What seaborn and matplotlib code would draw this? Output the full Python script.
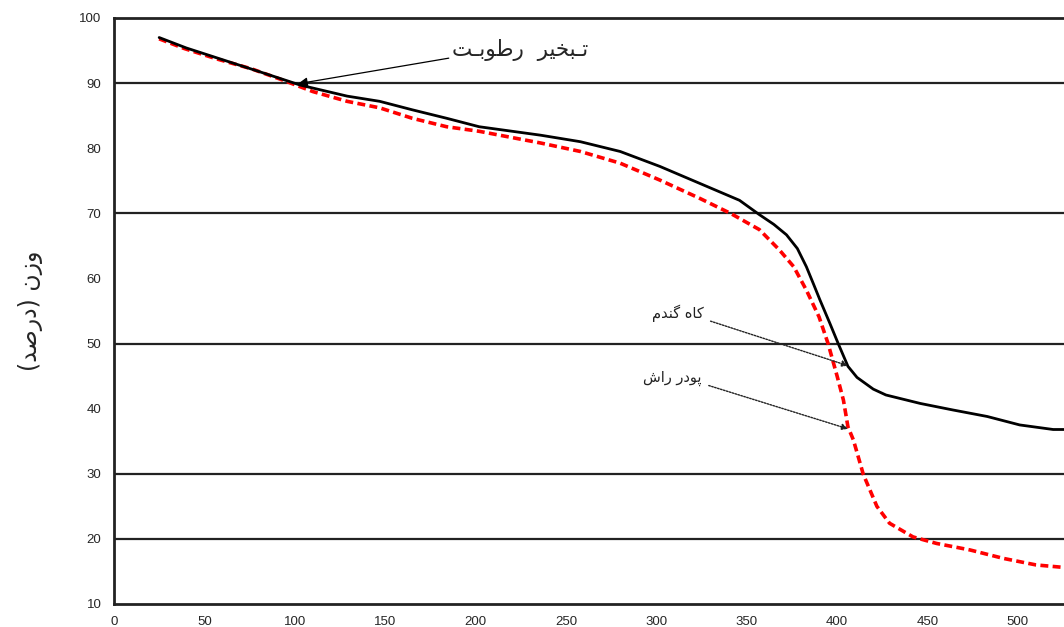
import matplotlib
matplotlib.use("Agg")
import matplotlib.pyplot as plt
import seaborn as sns
import pandas as pd

# ---- data ----
temp_straw = [25, 40, 60, 80, 103, 129, 147, 165, 184, 202, 236, 258, 280, 302, 324,
              346, 357, 365, 372, 378, 383, 387, 390.5, 396, 400.6, 406, 411, 420, 427,
              446, 464, 483, 501, 519.5, 526]
weight_straw = [97.0, 95.4, 93.6, 91.8, 89.7, 88.0, 87.2, 85.9, 84.6, 83.3, 82.0, 81.0,
                79.5, 77.2, 74.6, 72.0, 69.8, 68.3, 66.7, 64.6, 61.8, 59.1, 56.7, 53.1,
                50.0, 46.5, 44.8, 43.0, 42.1, 40.8, 39.8, 38.8, 37.5, 36.8, 36.8]

temp_beech = [25, 39, 57, 76, 94, 110, 129, 147, 165, 184, 202, 236, 258, 280, 302, 324,
              341, 357, 368, 376, 383, 390, 395, 400, 403.5, 406, 409, 414.5, 422, 429,
              442, 455, 473.5, 492, 510, 526]
weight_beech = [96.8, 95.3, 93.7, 92.2, 90.4, 88.7, 87.2, 86.2, 84.6, 83.3, 82.6, 80.8,
                79.5, 77.7, 75.1, 72.3, 70.0, 67.5, 64.4, 61.8, 58.2, 54.1, 50.0, 45.0,
                41.3, 37.2, 35.2, 29.9, 25.0, 22.4, 20.3, 19.3, 18.3, 17.0, 16.0, 15.6]

x_ticks = [0, 50, 100, 150, 200, 250, 300, 350, 400, 450, 500]
y_ticks = [10, 20, 30, 40, 50, 60, 70, 80, 90, 100]
grid_levels = [20, 30, 50, 70, 90]

# Persian texts in visual (presentation-form) order
label_y = "(\uFEAA\uFEBB\uFEAD\uFEA9) \uFEE5\uFEAF\uFEED"            # وزن (درصد)
label_moist = ("\uFE96\u0640\uFE91\uFEEE\uFEC3\uFEAD  "
               "\uFEAE\uFEF4\uFEA8\uFE92\u0640\uFE97")                 # تبخیر رطوبت
label_straw = "\uFEE1\uFEAA\uFEE8\uFB94 \uFEE9\uFE8E\uFB90"          # کاه گندم
label_beech = "\uFEB5\uFE8D\uFEAD \uFEAD\uFEA9\uFEEE\uFB58"          # پودر راش

sns.set_style("white")
plt.rcParams['font.family'] = ['Liberation Sans', 'DejaVu Sans']

fig = plt.figure(figsize=(10.64, 6.27), dpi=100)
ax = fig.add_axes([0.1071, 0.0367, 0.8929, 0.9346])

for lvl in grid_levels:
    ax.axhline(lvl, color='#222222', lw=1.6, zorder=1)

df_s = pd.DataFrame({"T": temp_straw, "W": weight_straw})
df_b = pd.DataFrame({"T": temp_beech, "W": weight_beech})
sns.lineplot(data=df_s, x="T", y="W", ax=ax, color='black', lw=2.0, zorder=3, sort=False)
sns.lineplot(data=df_b, x="T", y="W", ax=ax, color='#ff0000', lw=2.6, zorder=2,
             sort=False, linestyle=(0, (2.2, 1.2)))

ax.set_xlim(0, 525.5)
ax.set_ylim(10, 100)
ax.set_xticks(x_ticks)
ax.set_yticks(y_ticks)
ax.tick_params(axis='both', direction='out', length=5, width=1.5, color='#222222',
               labelsize=9.5, pad=4)
ax.set_xlabel("")
ax.set_ylabel(label_y, fontsize=17, family=['DejaVu Sans'], labelpad=26)

for side in ['left', 'bottom', 'top']:
    ax.spines[side].set_visible(True)
    ax.spines[side].set_color('#222222')
    ax.spines[side].set_linewidth(2.0)
ax.spines['right'].set_visible(False)

ax.annotate(label_moist, xy=(101.8, 89.9), xytext=(187, 95.1),
            fontsize=15.5, family=['DejaVu Sans'], ha='left', va='center',
            arrowprops=dict(arrowstyle='-|>', color='black', lw=0.9,
                            mutation_scale=14, shrinkA=0, shrinkB=0,
                            relpos=(0.0, 0.15)))
ax.annotate(label_straw, xy=(406, 46.6), xytext=(326, 54.6),
            fontsize=10.5, family=['DejaVu Sans'], color='#222222', ha='right', va='center',
            arrowprops=dict(arrowstyle='-|>', color='#222222', lw=1.0, linestyle=(0, (1.2, 1.0)),
                            mutation_scale=9, shrinkA=3, shrinkB=0, relpos=(1.0, 0.2)))
ax.annotate(label_beech, xy=(406, 36.9), xytext=(325, 44.6),
            fontsize=10.5, family=['DejaVu Sans'], color='#222222', ha='right', va='center',
            arrowprops=dict(arrowstyle='-|>', color='#222222', lw=1.0, linestyle=(0, (1.2, 1.0)),
                            mutation_scale=9, shrinkA=3, shrinkB=0, relpos=(1.0, 0.2)))

fig.savefig("out.png", dpi=100)
